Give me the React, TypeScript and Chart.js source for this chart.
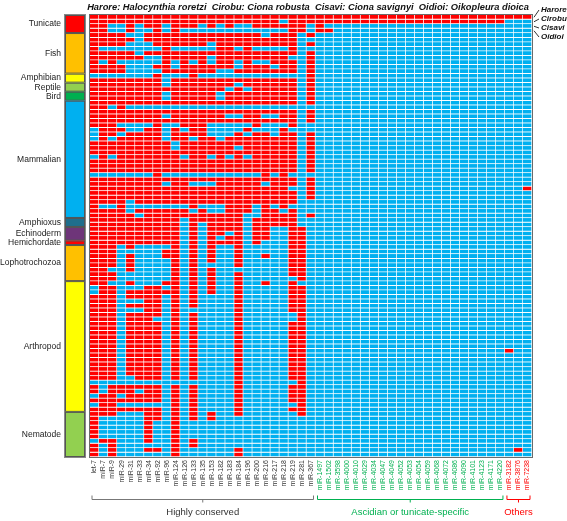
import React, { useEffect, useRef } from "react";
import { Chart, registerables } from "chart.js";
Chart.register(...registerables);

const conservedMiRNAs = ["let-7","miR-7","miR-9","miR-29","miR-31","miR-33","miR-34","miR-92","miR-96","miR-124","miR-126","miR-133","miR-135","miR-153","miR-182","miR-183","miR-184","miR-196","miR-200","miR-216","miR-217","miR-218","miR-219","miR-281","miR-367"];
const tunicateMiRNAs = ["miR-1497","miR-1502","miR-3598","miR-4000","miR-4010","miR-4029","miR-4034","miR-4047","miR-4049","miR-4052","miR-4053","miR-4054","miR-4059","miR-4068","miR-4072","miR-4086","miR-4090","miR-4101","miR-4123","miR-4171","miR-4220"];
const otherMiRNAs = ["miR-3182","miR-3876","miR-7238"];

const groupNames = ["Tunicate","Fish","Amphibian","Reptile","Bird","Mammalian","Amphioxus","Echinoderm","Hemichordate","Lophotrochozoa","Arthropod","Nematode"];
const groupSizes = [4,9,2,2,2,26,2,3,1,8,29,10];
const groupColors = ["#FF0000","#FFC000","#FFFF00","#92D050","#00B050","#00B0F0","#1F6E8C","#6E3579","#FF0000","#FFC000","#FFFF00","#92D050"];

const tunicateNames = ["Harore","Cirobu","Cisavi","Oidioi"];
const speciesNote = "Harore: Halocynthia roretzi  Cirobu: Ciona robusta  Cisavi: Ciona savignyi  Oidioi: Oikopleura dioica";
const bracketNames = ["Highly conserved","Ascidian or tunicate-specific","Others"];
const bracketColors = ["#333333","#00B050","#FF0000"];

// 1 = present (red), 0 = absent (blue); one string per species, conserved families
const conservedPresence = [
"1111111111111111111111111",
"1111111111111111111110111",
"1100101101110101001111110",
"1100100101000000000000110",
"1111001111111111111011101",
"1111101111111111111111100",
"1111000111111011111111101",
"1000000010000011010000100",
"1111101111111111111111101",
"1111110011111011111111001",
"1010000010101011010011101",
"1111000110111111011101101",
"1111000011111100111111101",
"0000000100010000000000001",
"1111111101111111111111101",
"1111111101111111011111101",
"1111111111111110101111101",
"1111111101111101111111101",
"1111111101111101111111101",
"1111111111111111111111101",
"1101000000000000000000000",
"1111111111111111111111101",
"1111111101111110011001101",
"1111111111111111111111101",
"1110000100111000001000100",
"0111001101011000010001000",
"0110111101111000101101101",
"0101111101101101111111101",
"1111111110111111111111101",
"1111111110111111011111101",
"1111111111111111111111101",
"0101111111011010101111101",
"1111111111111111111111101",
"1111111111111111111111101",
"1111111111111111111111101",
"0000000100000000000101000",
"1111111111111111111111101",
"1111111101100011111011101",
"1111111111111111111111001",
"1111111111111111111111101",
"1111111111111111111111101",
"1111011111111111111111100",
"1001000000010001110101000",
"1111011111101001110110100",
"1111101111111111100111101",
"1111111111011111101111100",
"1111111111010111101111100",
"1111111111010111101100110",
"1111111111010110101100110",
"1111111111010101101100110",
"1111111111010111101000110",
"1110100001010100100000110",
"1110000011010100100000110",
"1110100011010100100100110",
"1110100001010100100000110",
"1110100001010000100000110",
"1100100001010100000000110",
"1110000001010100100000110",
"1110000001010100100000010",
"1100100011010100100100100",
"0110001101010100100000110",
"0110111111010100100000110",
"1110111101010000100000110",
"1110001101010000100000110",
"1110111101010000100000110",
"1110001101000000100000110",
"1110111101010000100000010",
"1110111001010000100000010",
"1110111101010000100000110",
"1110111101010000100000110",
"1110111101010000100000110",
"1110111101010000100000110",
"1110111101010000100000110",
"1110111101010000100000110",
"1110111101010000100000110",
"1110111101010000100000110",
"1110111101010000100000110",
"1110111101010000100000110",
"1110111101010000100000110",
"1110111101010000100000110",
"1110011101010000100000110",
"0000000000000000100000010",
"1011111101010000100000110",
"1011101101010000100000110",
"0110111101010000100000110",
"1111111101010000100000110",
"0110000001010000100000010",
"1111111101010000100000110",
"1110001101010100100000010",
"1000001101010100000000000",
"1000001001000000000000000",
"1000001001000000000000000",
"1000001001000000000000000",
"1000001001000000000000000",
"0110001001010000000000000",
"1010000001010000000000000",
"1010001101000000100000000",
"1010000001000000100000000"
];

// tunicate rows: tunicate-specific (21) + others (3)
const tunicateSpecificPresence = [
"111111111111111111111111",
"111111111111111111111000",
"100000000000000000000000",
"110000000000000000000000"
];
// isolated hits in non-tunicate species: [row, family]
const otherHits: [number, string][] = [[38,"miR-7238"],[74,"miR-3182"],[96,"miR-3876"]];

const RED = "#FF0000";
const BLUE = "#00B0F0";
const FONT = '"Liberation Sans", Arial, sans-serif';

export default function App() {
  const ref = useRef<HTMLCanvasElement | null>(null);
  useEffect(() => {
    const labels = [...conservedMiRNAs, ...tunicateMiRNAs, ...otherMiRNAs];
    const nSpec = tunicateMiRNAs.length + otherMiRNAs.length;
    const matrix = conservedPresence.map((row, r) => {
      const rest = r < tunicateSpecificPresence.length ? tunicateSpecificPresence[r] : "0".repeat(nSpec);
      return (row + rest).split("").map((c) => c === "1");
    });
    otherHits.forEach(([r, name]) => { matrix[r][labels.indexOf(name)] = true; });
    const nRows = matrix.length;

    const datasets = matrix.map((row, r) => ({
      label: "r" + r,
      data: labels.map(() => 1),
      backgroundColor: row.map((v) => (v ? RED : BLUE)),
      borderColor: "rgba(255,255,255,0.9)",
      borderWidth: { top: 0, left: 0, right: 1, bottom: 1 },
      borderSkipped: false,
      barPercentage: 1,
      categoryPercentage: 1,
      stack: "s",
    }));

    const decor = {
      id: "decor",
      afterDatasetsDraw(chart: any) {
        const { ctx, chartArea: a, scales } = chart;
        const x = scales.x, y = scales.y;
        ctx.save();
        // frame
        ctx.strokeStyle = "#6b6b6b";
        ctx.lineWidth = 1;
        ctx.strokeRect(a.left - 0.5, a.top - 0.5, a.right - a.left + 1, a.bottom - a.top + 1);
        // group colour bar
        let start = 0;
        ctx.font = "8.5px " + FONT;
        ctx.textAlign = "right";
        ctx.textBaseline = "middle";
        groupNames.forEach((name, i) => {
          const y0 = y.getPixelForValue(start);
          const y1 = y.getPixelForValue(start + groupSizes[i]);
          ctx.fillStyle = groupColors[i];
          ctx.fillRect(65, y0, 20, y1 - y0);
          ctx.strokeStyle = "#555";
          ctx.strokeRect(65.5, y0 + 0.5, 19, y1 - y0 - 1);
          ctx.fillStyle = "#222";
          ctx.fillText(name, 61, (y0 + y1) / 2);
          start += groupSizes[i];
        });
        ctx.strokeStyle = "#888";
        ctx.strokeRect(64.5, y.getPixelForValue(0) - 0.5, 21, y.getPixelForValue(nRows) - y.getPixelForValue(0) + 1);
        // title
        ctx.fillStyle = "#111";
        ctx.font = "italic bold 9.3px " + FONT;
        ctx.textAlign = "center";
        ctx.textBaseline = "middle";
        ctx.fillText(speciesNote, 308, 7);
        // tunicate labels at right
        ctx.font = "italic bold 8px " + FONT;
        ctx.textAlign = "left";
        tunicateNames.forEach((n, i) => {
          const ly = 10 + 9 * i;
          const ry = y.getPixelForValue(i + 0.5);
          ctx.strokeStyle = "#333";
          ctx.beginPath();
          ctx.moveTo(a.right + 2, ry);
          ctx.lineTo(a.right + 7, ly);
          ctx.stroke();
          ctx.fillStyle = "#111";
          ctx.fillText(n, a.right + 9, ly);
        });
        // brackets
        const half = (x.getPixelForValue(1) - x.getPixelForValue(0)) / 2;
        const spans = [
          [0, conservedMiRNAs.length - 1],
          [conservedMiRNAs.length, conservedMiRNAs.length + tunicateMiRNAs.length - 1],
          [conservedMiRNAs.length + tunicateMiRNAs.length, labels.length - 1],
        ];
        spans.forEach(([s, e], i) => {
          const x0 = x.getPixelForValue(s) - half + 2;
          const x1 = x.getPixelForValue(e) + half - 2;
          const by = 499.5;
          const cx = (x0 + x1) / 2;
          ctx.strokeStyle = i === 0 ? "#777" : bracketColors[i];
          ctx.lineWidth = 1;
          ctx.beginPath();
          ctx.moveTo(x0, by - 4);
          ctx.lineTo(x0, by);
          ctx.lineTo(x1, by);
          ctx.lineTo(x1, by - 4);
          ctx.moveTo(cx, by);
          ctx.lineTo(cx, by + 3);
          ctx.stroke();
          ctx.fillStyle = bracketColors[i];
          ctx.font = "9.5px " + FONT;
          ctx.textAlign = "center";
          ctx.textBaseline = "middle";
          ctx.fillText(bracketNames[i], cx, 512);
        });
        ctx.restore();
      },
    };

    const chart = new Chart(ref.current as HTMLCanvasElement, {
      type: "bar",
      data: { labels, datasets: datasets as any },
      options: {
        animation: false,
        responsive: false,
        maintainAspectRatio: false,
        layout: { padding: { left: 90, right: 35, top: 15, bottom: 4 } },
        plugins: { legend: { display: false }, tooltip: { enabled: false } },
        scales: {
          x: {
            stacked: true,
            grid: { display: false, drawTicks: false },
            border: { display: false },
            ticks: {
              autoSkip: false,
              maxRotation: 90,
              minRotation: 90,
              padding: 3,
              font: { family: FONT, size: 7 },
              color: (c: any) =>
                c.index < conservedMiRNAs.length ? "#333" : c.index < conservedMiRNAs.length + tunicateMiRNAs.length ? "#00B050" : "#FF0000",
            },
            afterFit: (axis: any) => {
              axis.height = 60;
              axis.paddingLeft = 0;
              axis.paddingRight = 0;
            },
          },
          y: { stacked: true, display: false, min: 0, max: nRows, reverse: true },
        },
      },
      plugins: [decor],
    } as any);
    return () => chart.destroy();
  }, []);

  return (
    <div style={{ position: "absolute", left: 0, top: 0, width: 567, height: 521, background: "#fff" }}>
      <canvas ref={ref} width={567} height={521} style={{ display: "block" }} />
    </div>
  );
}
